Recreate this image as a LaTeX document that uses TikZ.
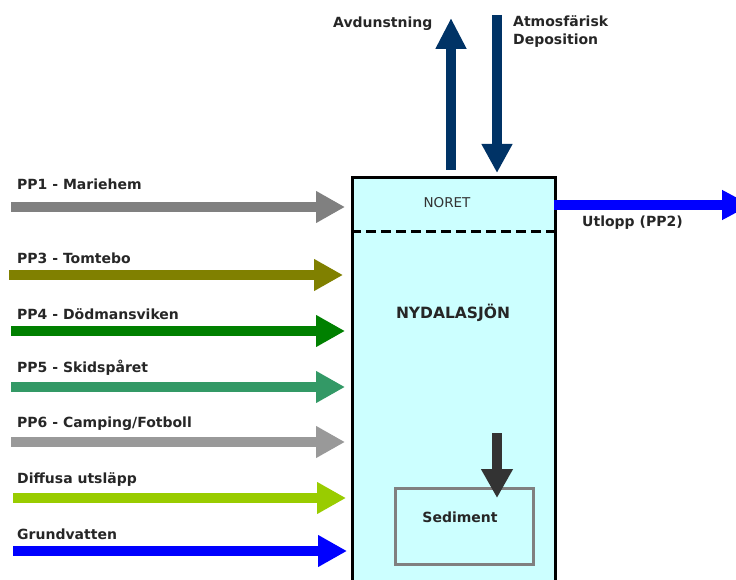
\documentclass[tikz,border=0pt]{standalone}
\usepackage{fontspec}
\setmainfont{DejaVu Sans}
\usetikzlibrary{arrows.meta}
\definecolor{navy}{HTML}{003366}
\definecolor{grayA}{HTML}{808080}
\definecolor{oliveA}{HTML}{808000}
\definecolor{greenA}{HTML}{008000}
\definecolor{seaA}{HTML}{339966}
\definecolor{grayB}{HTML}{999999}
\definecolor{limeA}{HTML}{99CC00}
\definecolor{blueA}{HTML}{0000FF}
\definecolor{darkA}{HTML}{333333}
\definecolor{lakefill}{HTML}{CCFFFF}
\begin{document}
\begin{tikzpicture}[x=1pt,y=-1pt,
  lbl/.style={font=\bfseries\fontsize{14}{17}\selectfont, anchor=base west, inner sep=0pt, text=black!85},
  flow/.style={line width=10pt, -{Triangle[length=29pt,width=30pt]}},
]
\useasboundingbox (0,0) rectangle (736,580);
\clip (0,0) rectangle (736,580);
% lake box
\node[draw, line width=3pt, fill=lakefill, minimum width=203pt, minimum height=410pt,
      anchor=north west, inner sep=0pt] (lake) at (351,176) {};
\coordinate (dl) at (351,231);
\coordinate (dr) at (554,231);
\draw[line width=3pt, dash pattern=on 10pt off 5pt] (dl) -- (dr);
\node[font=\fontsize{13.5}{16}\selectfont, text=black!80] (noret) at (447,203) {NORET};
\node[font=\bfseries\fontsize{15.5}{18}\selectfont, text=black!85] (nyd) at (453,313) {NYDALASJÖN};
% sediment
\node[draw=grayA, line width=3pt, minimum width=138pt, minimum height=76pt, inner sep=0pt] (sedbox) at (464,526) {};
\node[font=\bfseries\fontsize{14}{17}\selectfont, text=black!85] (sed) at (460,517) {Sediment};
\coordinate (sedS) at (497,433);
\coordinate (sedE) at (497,498);
\draw[flow, darkA] (sedS) -- (sedE);
% top arrows
\coordinate (evS) at (451,170);
\coordinate (evE) at (451,18);
\draw[navy, line width=10pt, -{Triangle[length=31pt,width=29pt]}] (evS) -- (evE);
\coordinate (depS) at (497,15);
\coordinate (depE) at (497,173);
\draw[navy, line width=10pt, -{Triangle[length=29pt,width=29pt]}] (depS) -- (depE);
\node[lbl] (avd) at (333,28) {Avdunstning};
\node[lbl, align=left, anchor=north west] (atm) at (513,15) {Atmosfärisk\\[1.5pt]Deposition};
% outlet
\coordinate (utS) at (554,205);
\coordinate (utE) at (751,205);
\draw[flow, blueA, -{Triangle[length=29pt,width=28pt]}] (utS) -- (utE);
\node[lbl] (utl) at (582,226) {Utlopp (PP2)};
% inflows
\coordinate (a1) at (11,207); \coordinate (b1) at (345,207);
\coordinate (a3) at (9,275);  \coordinate (b3) at (343,275);
\coordinate (a4) at (11,331); \coordinate (b4) at (345,331);
\coordinate (a5) at (11,387); \coordinate (b5) at (345,387);
\coordinate (a6) at (11,442); \coordinate (b6) at (345,442);
\coordinate (a7) at (13,498); \coordinate (b7) at (346,498);
\coordinate (a8) at (13,551); \coordinate (b8) at (347,551);
\draw[flow, grayA] (a1) -- (b1);
\draw[flow, oliveA] (a3) -- (b3);
\draw[flow, greenA] (a4) -- (b4);
\draw[flow, seaA] (a5) -- (b5);
\draw[flow, grayB] (a6) -- (b6);
\draw[flow, limeA] (a7) -- (b7);
\draw[flow, blueA] (a8) -- (b8);
\node[lbl] (l1) at (17,190) {PP1 - Mariehem};
\node[lbl] (l3) at (17,263) {PP3 - Tomtebo};
\node[lbl] (l4) at (17,319) {PP4 - Dödmansviken};
\node[lbl] (l5) at (17,372) {PP5 - Skidspåret};
\node[lbl] (l6) at (17,427) {PP6 - Camping/Fotboll};
\node[lbl] (l7) at (17,483) {Diffusa utsläpp};
\node[lbl] (l8) at (17,539) {Grundvatten};
\end{tikzpicture}
\end{document}
